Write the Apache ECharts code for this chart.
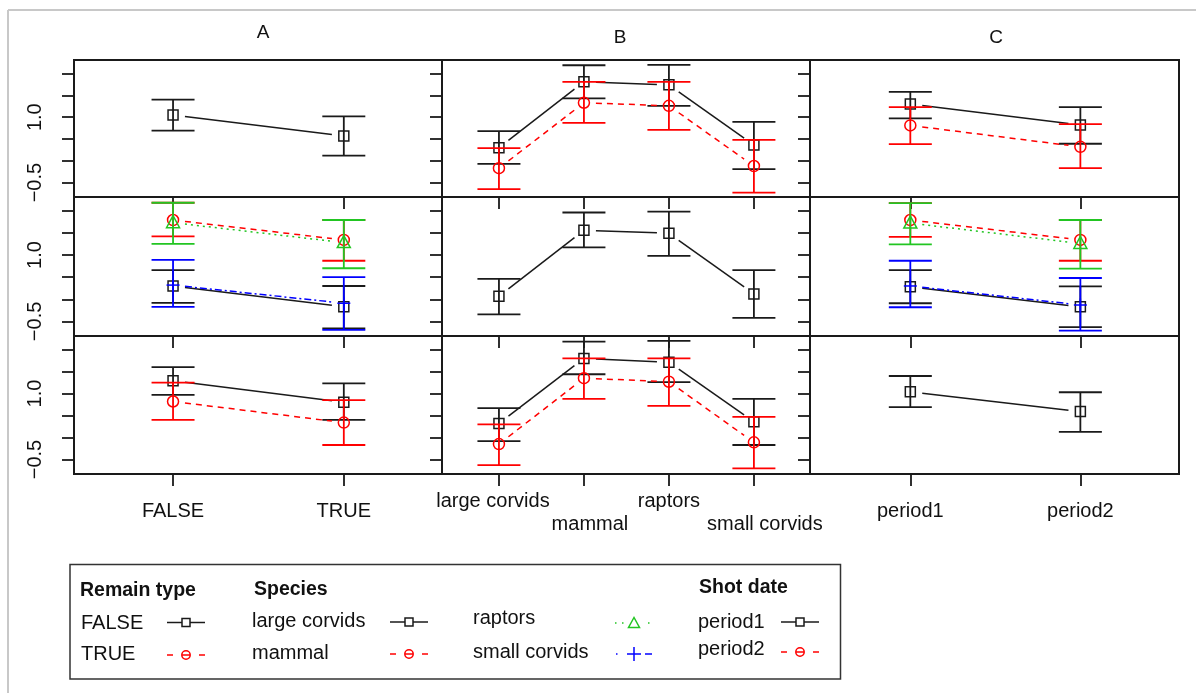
<!DOCTYPE html>
<html>
<head>
<meta charset="utf-8">
<script src="https://cdn.jsdelivr.net/npm/echarts@6/dist/echarts.min.js"></script>
<style>
  html, body { margin: 0; padding: 0; background: #fff; }
  #chart { width: 1196px; height: 693px; }
</style>
</head>
<body>
<div id="chart"></div>
<script>
// ---- categories and tick values ----
const remainTypes = ['FALSE', 'TRUE'];
const speciesNames = ['large corvids', 'mammal', 'raptors', 'small corvids'];
const shotDates = ['period1', 'period2'];
const panelTitles = ['A', 'B', 'C'];
const yTickValues = [-0.5, 0, 0.5, 1, 1.5, 2];
const yLabelValues = [-0.5, 1];

// ---- main effects (diagonal panels) ----
const remainFit = [1.05, 0.57];
const remainLower = [0.69, 0.12];
const remainUpper = [1.40, 1.02];

const speciesFit = [0.07, 1.56, 1.49, 0.12];
const speciesLower = [-0.34, 1.17, 0.98, -0.42];
const speciesUpper = [0.46, 1.96, 1.98, 0.66];

const shotFit = [1.04, 0.59];
const shotLower = [0.69, 0.13];
const shotUpper = [1.40, 1.03];

// ---- species on x, remain type as lines ----
const spRemFalseFit = [0.30, 1.81, 1.74, 0.36];
const spRemFalseLower = [-0.07, 1.43, 1.26, -0.19];
const spRemFalseUpper = [0.68, 2.19, 2.20, 0.89];
const spRemTrueFit = [-0.17, 1.33, 1.26, -0.12];
const spRemTrueLower = [-0.65, 0.87, 0.71, -0.73];
const spRemTrueUpper = [0.29, 1.81, 1.81, 0.48];

// ---- shot date on x, remain type as lines ----
const shRemFalseFit = [1.30, 0.82];
const shRemFalseLower = [0.97, 0.39];
const shRemFalseUpper = [1.58, 1.23];
const shRemTrueFit = [0.81, 0.32];
const shRemTrueLower = [0.38, -0.17];
const shRemTrueUpper = [1.23, 0.84];

// ---- remain type on x, species as lines ----
const reSpLargeFit = [0.30, -0.17];
const reSpLargeLower = [-0.08, -0.66];
const reSpLargeUpper = [0.66, 0.30];
const reSpMammalFit = [1.79, 1.34];
const reSpMammalLower = [1.42, 0.87];
const reSpMammalUpper = [2.18, 1.79];
const reSpRaptorFit = [1.73, 1.28];
const reSpRaptorLower = [1.25, 0.70];
const reSpRaptorUpper = [2.18, 1.79];
const reSpSmallFit = [0.32, -0.09];
const reSpSmallLower = [-0.17, -0.69];
const reSpSmallUpper = [0.89, 0.50];

// ---- shot date on x, species as lines ----
const shSpLargeFit = [0.28, -0.17];
const shSpLargeLower = [-0.09, -0.63];
const shSpLargeUpper = [0.66, 0.29];
const shSpMammalFit = [1.79, 1.34];
const shSpMammalLower = [1.41, 0.87];
const shSpMammalUpper = [2.17, 1.79];
const shSpRaptorFit = [1.72, 1.26];
const shSpRaptorLower = [1.24, 0.69];
const shSpRaptorUpper = [2.17, 1.79];
const shSpSmallFit = [0.30, -0.13];
const shSpSmallLower = [-0.18, -0.71];
const shSpSmallUpper = [0.87, 0.48];

// ---- remain type on x, shot date as lines ----
const reShP1Fit = [1.29, 0.80];
const reShP1Lower = [0.97, 0.40];
const reShP1Upper = [1.60, 1.23];
const reShP2Fit = [0.82, 0.34];
const reShP2Lower = [0.40, -0.17];
const reShP2Upper = [1.25, 0.85];

// ---- species on x, shot date as lines ----
const spShP1Fit = [0.32, 1.80, 1.71, 0.36];
const spShP1Lower = [-0.08, 1.44, 1.26, -0.17];
const spShP1Upper = [0.67, 2.18, 2.20, 0.88];
const spShP2Fit = [-0.15, 1.35, 1.27, -0.11];
const spShP2Lower = [-0.63, 0.88, 0.72, -0.70];
const spShP2Upper = [0.30, 1.80, 1.80, 0.47];

// ---- line/marker styles ----
const INK = '#1a1a1a';
const FONT = "'Liberation Sans', Arial, sans-serif";
const STYLE = {
  black: { color: INK, dash: null, marker: 'square' },
  red: { color: '#ff0000', dash: [6, 5], marker: 'circle' },
  green: { color: '#22c522', dash: [2, 4], marker: 'triangle' },
  blue: { color: '#0000ff', dash: [7, 3, 2, 3], marker: 'plus' }
};

function grp(style, fit, lower, upper) {
  return { style: STYLE[style], fit, lower, upper };
}

// panels in row-major order: rows = remain type / species / shot date
const panels = [
  [grp('black', remainFit, remainLower, remainUpper)],
  [grp('black', spRemFalseFit, spRemFalseLower, spRemFalseUpper),
   grp('red', spRemTrueFit, spRemTrueLower, spRemTrueUpper)],
  [grp('black', shRemFalseFit, shRemFalseLower, shRemFalseUpper),
   grp('red', shRemTrueFit, shRemTrueLower, shRemTrueUpper)],

  [grp('black', reSpLargeFit, reSpLargeLower, reSpLargeUpper),
   grp('red', reSpMammalFit, reSpMammalLower, reSpMammalUpper),
   grp('green', reSpRaptorFit, reSpRaptorLower, reSpRaptorUpper),
   grp('blue', reSpSmallFit, reSpSmallLower, reSpSmallUpper)],
  [grp('black', speciesFit, speciesLower, speciesUpper)],
  [grp('black', shSpLargeFit, shSpLargeLower, shSpLargeUpper),
   grp('red', shSpMammalFit, shSpMammalLower, shSpMammalUpper),
   grp('green', shSpRaptorFit, shSpRaptorLower, shSpRaptorUpper),
   grp('blue', shSpSmallFit, shSpSmallLower, shSpSmallUpper)],

  [grp('black', reShP1Fit, reShP1Lower, reShP1Upper),
   grp('red', reShP2Fit, reShP2Lower, reShP2Upper)],
  [grp('black', spShP1Fit, spShP1Lower, spShP1Upper),
   grp('red', spShP2Fit, spShP2Lower, spShP2Upper)],
  [grp('black', shotFit, shotLower, shotUpper)]
];

// ---- layout ----
const colBoxes = [
  { left: 74, width: 368, cats: remainTypes, min: 0.42, max: 2.575, labelMargin: 27 },
  { left: 442, width: 368, cats: speciesNames, min: 0.33, max: 4.66, labelMargin: 17 },
  { left: 810, width: 369, cats: shotDates, min: 0.41, max: 2.58, labelMargin: 27 }
];
const rowBoxes = [
  { top: 60, height: 137 },
  { top: 197, height: 139 },
  { top: 336, height: 138 }
];
const Y_MIN = -0.83, Y_MAX = 2.31;

function markerShape(kind, cx, cy, color) {
  const st = { stroke: color, lineWidth: 1.5, fill: null };
  if (kind === 'square') {
    return [{ type: 'rect', shape: { x: cx - 5, y: cy - 5, width: 10, height: 10 }, style: st }];
  }
  if (kind === 'circle') {
    return [{ type: 'circle', shape: { cx, cy, r: 5.5 }, style: st }];
  }
  if (kind === 'triangle') {
    return [{ type: 'polygon', shape: { points: [[cx, cy - 7], [cx - 6.5, cy + 5], [cx + 6.5, cy + 5]] }, style: st }];
  }
  return [
    { type: 'line', shape: { x1: cx - 6.5, y1: cy, x2: cx + 6.5, y2: cy }, style: st },
    { type: 'line', shape: { x1: cx, y1: cy - 6.5, x2: cx, y2: cy + 6.5 }, style: st }
  ];
}

function makeRender(g) {
  return function (params, api) {
    const i = params.dataIndex;
    const x = api.value(0);
    const c = api.coord([x, api.value(1)]);
    const lo = api.coord([x, api.value(2)]);
    const hi = api.coord([x, api.value(3)]);
    const color = g.style.color;
    const bar = { stroke: color, lineWidth: 1.8 };
    const cap = 21.5;
    const children = [];
    if (i < g.fit.length - 1) {
      const n = api.coord([x + 1, g.fit[i + 1]]);
      const dx = n[0] - c[0], dy = n[1] - c[1];
      const len = Math.hypot(dx, dy), gap = 12;
      children.push({
        type: 'line',
        shape: {
          x1: c[0] + dx / len * gap, y1: c[1] + dy / len * gap,
          x2: n[0] - dx / len * gap, y2: n[1] - dy / len * gap
        },
        style: { stroke: color, lineWidth: 1.5, lineDash: g.style.dash }
      });
    }
    children.push({ type: 'line', shape: { x1: c[0], y1: hi[1], x2: c[0], y2: lo[1] }, style: bar });
    children.push({ type: 'line', shape: { x1: c[0] - cap, y1: hi[1], x2: c[0] + cap, y2: hi[1] }, style: bar });
    children.push({ type: 'line', shape: { x1: c[0] - cap, y1: lo[1], x2: c[0] + cap, y2: lo[1] }, style: bar });
    markerShape(g.style.marker, c[0], c[1], color).forEach(m => children.push(m));
    return { type: 'group', children };
  };
}

const grids = [], xAxes = [], yAxes = [], series = [];

// species labels are nudged sideways a little and staggered over two lines
const speciesRich = {
  l: { fontFamily: FONT, fontSize: 20, color: '#111', padding: [0, 12, 0, 0] },
  m: { fontFamily: FONT, fontSize: 20, color: '#111', padding: [0, 0, 0, 12] },
  r: { fontFamily: FONT, fontSize: 20, color: '#111' },
  s: { fontFamily: FONT, fontSize: 20, color: '#111', padding: [0, 0, 0, 22] }
};
const speciesTags = ['l', 'm', 'r', 's'];

function xLabel(cb, col, values, margin) {
  return {
    show: true, customValues: values, margin: margin,
    showMinLabel: true, showMaxLabel: true, hideOverlap: false,
    fontFamily: FONT, fontSize: 20, color: '#111',
    formatter: v => {
      const i = Math.round(v) - 1;
      return col === 1 ? '{' + speciesTags[i] + '|' + cb.cats[i] + '}' : cb.cats[i];
    },
    rich: col === 1 ? speciesRich : undefined
  };
}

panels.forEach((groups, k) => {
  const row = Math.floor(k / 3), col = k % 3;
  const cb = colBoxes[col], rb = rowBoxes[row];
  grids.push({
    left: cb.left, top: rb.top, width: cb.width, height: rb.height,
    show: true, borderColor: INK, borderWidth: 2, backgroundColor: 'transparent'
  });
  const catIdx = cb.cats.map((_, i) => i + 1);
  const labelIdx = col === 1 ? [1, 3] : catIdx;
  xAxes.push({
    gridIndex: k, type: 'value', min: cb.min, max: cb.max, position: 'bottom',
    axisLine: { show: false, onZero: false }, splitLine: { show: false },
    axisTick: { show: true, inside: false, customValues: catIdx, length: 12, lineStyle: { color: INK, width: 1.8 } },
    axisLabel: row === 2 ? xLabel(cb, col, labelIdx, cb.labelMargin) : { show: false }
  });
  yAxes.push({
    gridIndex: k, type: 'value', min: Y_MIN, max: Y_MAX, position: 'left',
    axisLine: { show: false, onZero: false }, splitLine: { show: false },
    axisTick: { show: true, inside: false, customValues: yTickValues, length: 12, lineStyle: { color: INK, width: 1.8 } },
    axisLabel: col === 0 ? {
      show: true, customValues: yLabelValues, rotate: 90, margin: 29,
      fontFamily: FONT, fontSize: 20, color: '#111',
      formatter: v => (v < 0 ? '\u2212' : '') + Math.abs(v).toFixed(1)
    } : { show: false }
  });
  groups.forEach(g => {
    series.push({
      type: 'custom', xAxisIndex: k, yAxisIndex: k, clip: true, silent: true,
      data: g.fit.map((f, i) => [i + 1, f, g.lower[i], g.upper[i]]),
      renderItem: makeRender(g)
    });
  });
});

// second, lower line of species labels under the bottom-middle panel
{
  const cb = colBoxes[1], rb = rowBoxes[2];
  const k = grids.length;
  grids.push({ left: cb.left, top: rb.top, width: cb.width, height: rb.height, show: false });
  xAxes.push({
    gridIndex: k, type: 'value', min: cb.min, max: cb.max, position: 'bottom',
    axisLine: { show: false, onZero: false }, splitLine: { show: false },
    axisTick: { show: false },
    axisLabel: xLabel(cb, 1, [2, 4], 40)
  });
  yAxes.push({
    gridIndex: k, type: 'value', min: Y_MIN, max: Y_MAX, show: false
  });
}

// ---- legend and frame graphics ----
function txt(text, x, y, opts) {
  return {
    type: 'text', x, y,
    style: Object.assign({
      text, fill: '#111', font: '20px ' + FONT,
      textAlign: 'left', textVerticalAlign: 'middle'
    }, opts || {})
  };
}

function legendKey(kind, cx, cy) {
  const s = STYLE[kind], col = s.color;
  const st = { stroke: col, lineWidth: 1.5, fill: null };
  const L = (x1, x2, y1, y2) => ({ type: 'line', shape: { x1, y1: y1 === undefined ? cy : y1, x2, y2: y2 === undefined ? cy : y2 }, style: st });
  if (kind === 'black') {
    return [L(cx - 19, cx - 4), L(cx + 4, cx + 19),
      { type: 'rect', shape: { x: cx - 4, y: cy - 4, width: 8, height: 8 }, style: st }];
  }
  if (kind === 'red') {
    return [L(cx - 19, cx - 13), L(cx + 13, cx + 19), L(cx - 4, cx + 4),
      { type: 'circle', shape: { cx, cy, r: 4.2 }, style: st }];
  }
  if (kind === 'green') {
    return [L(cx - 19, cx - 17.5), L(cx - 12, cx - 10.5), L(cx + 14, cx + 15.5),
      { type: 'polygon', shape: { points: [[cx, cy - 5.5], [cx - 5.5, cy + 4.5], [cx + 5.5, cy + 4.5]] }, style: st }];
  }
  return [L(cx - 18, cx - 16.5), L(cx - 7, cx + 7), L(cx, cx, cy - 7, cy + 7), L(cx + 11, cx + 18)];
}

const graphics = [
  { type: 'line', shape: { x1: 8, y1: 10, x2: 1196, y2: 10 }, style: { stroke: '#c8c8c8', lineWidth: 2 } },
  { type: 'line', shape: { x1: 8, y1: 10, x2: 8, y2: 693 }, style: { stroke: '#c8c8c8', lineWidth: 2 } },
  txt(panelTitles[0], 263, 33, { textAlign: 'center', font: '19px ' + FONT }),
  txt(panelTitles[1], 620, 38, { textAlign: 'center', font: '19px ' + FONT }),
  txt(panelTitles[2], 996, 38, { textAlign: 'center', font: '19px ' + FONT }),
  { type: 'rect', shape: { x: 70, y: 564.5, width: 770.5, height: 114.5 }, style: { stroke: '#333', lineWidth: 1.5, fill: null } },
  txt('Remain type', 80, 591, { font: 'bold 19.5px ' + FONT }),
  txt('Species', 254, 590, { font: 'bold 19.5px ' + FONT }),
  txt('Shot date', 699, 588, { font: 'bold 19.5px ' + FONT }),
  txt(remainTypes[0], 81, 623),
  txt(remainTypes[1], 81, 654),
  txt(speciesNames[0], 252, 621),
  txt(speciesNames[1], 252, 653),
  txt(speciesNames[2], 473, 618),
  txt(speciesNames[3], 473, 652),
  txt(shotDates[0], 698, 622),
  txt(shotDates[1], 698, 649)
].concat(
  legendKey('black', 186, 622.5),
  legendKey('red', 186, 655),
  legendKey('black', 409, 622),
  legendKey('red', 409, 654),
  legendKey('green', 634, 623),
  legendKey('blue', 634, 654),
  legendKey('black', 800, 622),
  legendKey('red', 800, 652)
);

const chart = echarts.init(document.getElementById('chart'), null, { renderer: 'canvas' });
chart.setOption({
  animation: false,
  backgroundColor: '#ffffff',
  grid: grids,
  xAxis: xAxes,
  yAxis: yAxes,
  series: series,
  graphic: { elements: graphics }
});
</script>
</body>
</html>
